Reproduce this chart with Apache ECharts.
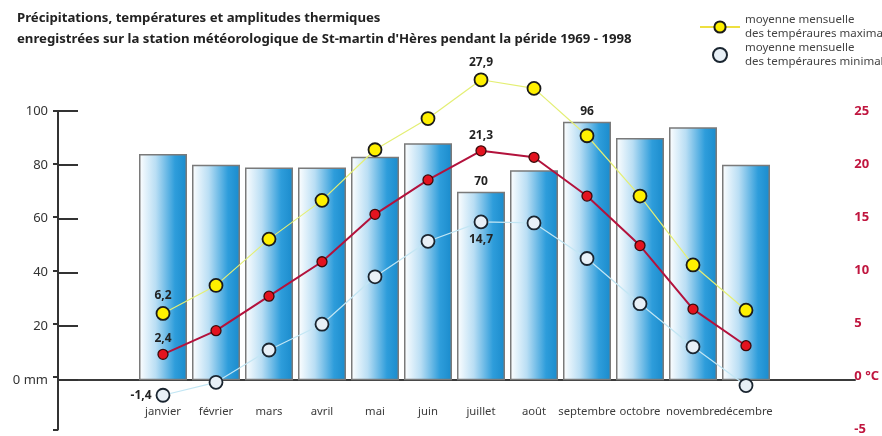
<!DOCTYPE html>
<html><head><meta charset="utf-8">
<script src="https://cdn.jsdelivr.net/npm/echarts@6/dist/echarts.min.js"></script>
<style>html,body{margin:0;padding:0;background:#fff}#c{width:882px;height:436px}</style>
</head><body><div id="c"></div>
<script>
// ---- data ----
const months = ['janvier','février','mars','avril','mai','juin','juillet','août','septembre','octobre','novembre','décembre'];
const precipitation = [84,80,79,79,83,88,70,78,96,90,94,80];
const tempMax  = [6.2,8.8,13.1,16.7,21.4,24.3,27.9,27.1,22.7,17.1,10.7,6.5];
const tempMean = [2.4,4.6,7.8,11.0,15.4,18.6,21.3,20.7,17.1,12.5,6.6,3.2];
const tempMin  = [-1.4,-0.2,2.8,5.2,9.6,12.9,14.7,14.6,11.3,7.1,3.1,-0.5];
const mmTickLabels = {0:'0 mm',20:'20',40:'40',60:'60',80:'80',100:'100'};
const tempTickLabels = {'-5':'-5',0:'0 °C',5:'5',10:'10',15:'15',20:'20',25:'25'};
const precipLabelIdx = [6,8];
const maxLabelIdx = [0,6];
const meanLabelIdx = [0,6];
const minLabelIdx = {0:'left',6:'bottom'};
const nameMax = 'moyenne mensuelle\ndes tempéraures maximales';
const nameMin = 'moyenne mensuelle\ndes tempéraures minimales';
const nameMean = 'moyenne';

const fmt = v => String(v).replace('.', ',');
const numLabel = {show:true, fontSize:12, fontWeight:'bold', color:'#222', fontFamily:'Noto Sans, sans-serif', formatter: p => fmt(p.value)};

function withLabels(arr, idx, pos){
  return arr.map((v,i)=>{
    if (Array.isArray(idx) ? idx.includes(i) : (i in idx)) {
      const position = Array.isArray(idx) ? pos : idx[i];
      return {value:v, label:Object.assign({}, numLabel, {position, distance:4})};
    }
    return v;
  });
}

const chart = echarts.init(document.getElementById('c'), null, {renderer:'canvas'});
const sans = 'Noto Sans, sans-serif';

chart.setOption({
  animation:false,
  backgroundColor:'#fff',
  title:{
    text:'Précipitations, températures et amplitudes thermiques\nenregistrées sur la station météorologique de St-martin d\'Hères pendant la péride 1969 - 1998',
    left:12, top:3,
    textStyle:{fontSize:13.2, fontWeight:'bold', color:'#222', lineHeight:21, fontFamily:sans}
  },
  legend:{
    data:[{name:nameMax, lineStyle:{width:2, color:'#eee040'}}, {name:nameMin, icon:'circle'}],
    orient:'vertical', left:694, top:8, itemGap:0,
    itemWidth:40, itemHeight:14,
    textStyle:{fontSize:11.5, lineHeight:14, color:'#444', fontFamily:sans}
  },
  grid:[
    {left:58, right:27, top:111, bottom:56},
    {left:58, right:27, top:111, bottom:2},
    {left:136.5, right:109.5, top:111, bottom:2}
  ],
  xAxis:[
    {gridIndex:0, type:'value', min:0, max:1, axisLine:{show:true, onZero:false, lineStyle:{color:'#3a3a3a', width:2}}, axisTick:{show:false}, axisLabel:{show:false}, splitLine:{show:false}},
    {gridIndex:1, type:'value', min:0, max:1, show:false},
    {gridIndex:2, type:'category', data:months, offset:-54, axisLine:{show:false}, axisTick:{show:false},
      axisLabel:{margin:26, fontSize:11.3, color:'#3c3c3c', fontFamily:sans, interval:0}}
  ],
  yAxis:[
    {gridIndex:0, type:'value', position:'left', min:0, max:100, interval:20,
      axisLine:{show:true, lineStyle:{color:'#333', width:2}},
      axisTick:{show:true, inside:true, length:20, lineStyle:{color:'#333', width:2}},
      axisLabel:{margin:10, fontSize:13, color:'#333', fontFamily:sans, formatter:v=>mmTickLabels[v]},
      splitLine:{show:false}},
    {gridIndex:1, type:'value', position:'right', min:-5, max:25, interval:5,
      axisLine:{show:true, lineStyle:{color:'#333', width:2}},
      axisTick:{show:true, inside:true, length:5, lineStyle:{color:'#333', width:2}},
      axisLabel:{margin:4, fontSize:13, fontWeight:'bold', color:'#c0163f', fontFamily:sans, formatter:v=>tempTickLabels[v]},
      splitLine:{show:false}},
    {gridIndex:2, type:'value', min:-20, max:100, interval:20, show:false},
    {gridIndex:2, type:'value', min:-5, max:25, interval:5, show:false}
  ],
  series:[
    {type:'bar', name:'précipitations', xAxisIndex:2, yAxisIndex:2, barWidth:48,
      data: withLabels(precipitation, precipLabelIdx, 'top'),
      itemStyle:{
        color:new echarts.graphic.LinearGradient(0,0,1,0,[
          {offset:0, color:'#ffffff'},
          {offset:0.35, color:'#b9def4'},
          {offset:0.75, color:'#2e9ddb'},
          {offset:1, color:'#1a8bcc'}
        ]),
        borderColor:'#7a7a7a', borderWidth:1.5
      }},
    {type:'line', name:nameMin, xAxisIndex:2, yAxisIndex:3, data: withLabels(tempMin, minLabelIdx),
      symbol:'circle', symbolSize:13, clip:false,
      lineStyle:{color:'#c2e6f4', width:1.2},
      itemStyle:{color:'#e8f0f7', borderColor:'#1a2530', borderWidth:1.8}, z:3},
    {type:'line', name:nameMax, xAxisIndex:2, yAxisIndex:3, data: withLabels(tempMax, maxLabelIdx, 'top'),
      symbol:'circle', symbolSize:13, clip:false,
      lineStyle:{color:'#e4ef74', width:1.2},
      itemStyle:{color:'#fff000', borderColor:'#1a1a1a', borderWidth:1.8}, z:4},
    {type:'line', name:nameMean, xAxisIndex:2, yAxisIndex:3, data: withLabels(tempMean, meanLabelIdx, 'top'),
      symbol:'circle', symbolSize:10, clip:false,
      lineStyle:{color:'#b3123c', width:2},
      itemStyle:{color:'#e3131f', borderColor:'#3a0a0a', borderWidth:1.3}, z:5}
  ]
});
</script>
</body></html>
